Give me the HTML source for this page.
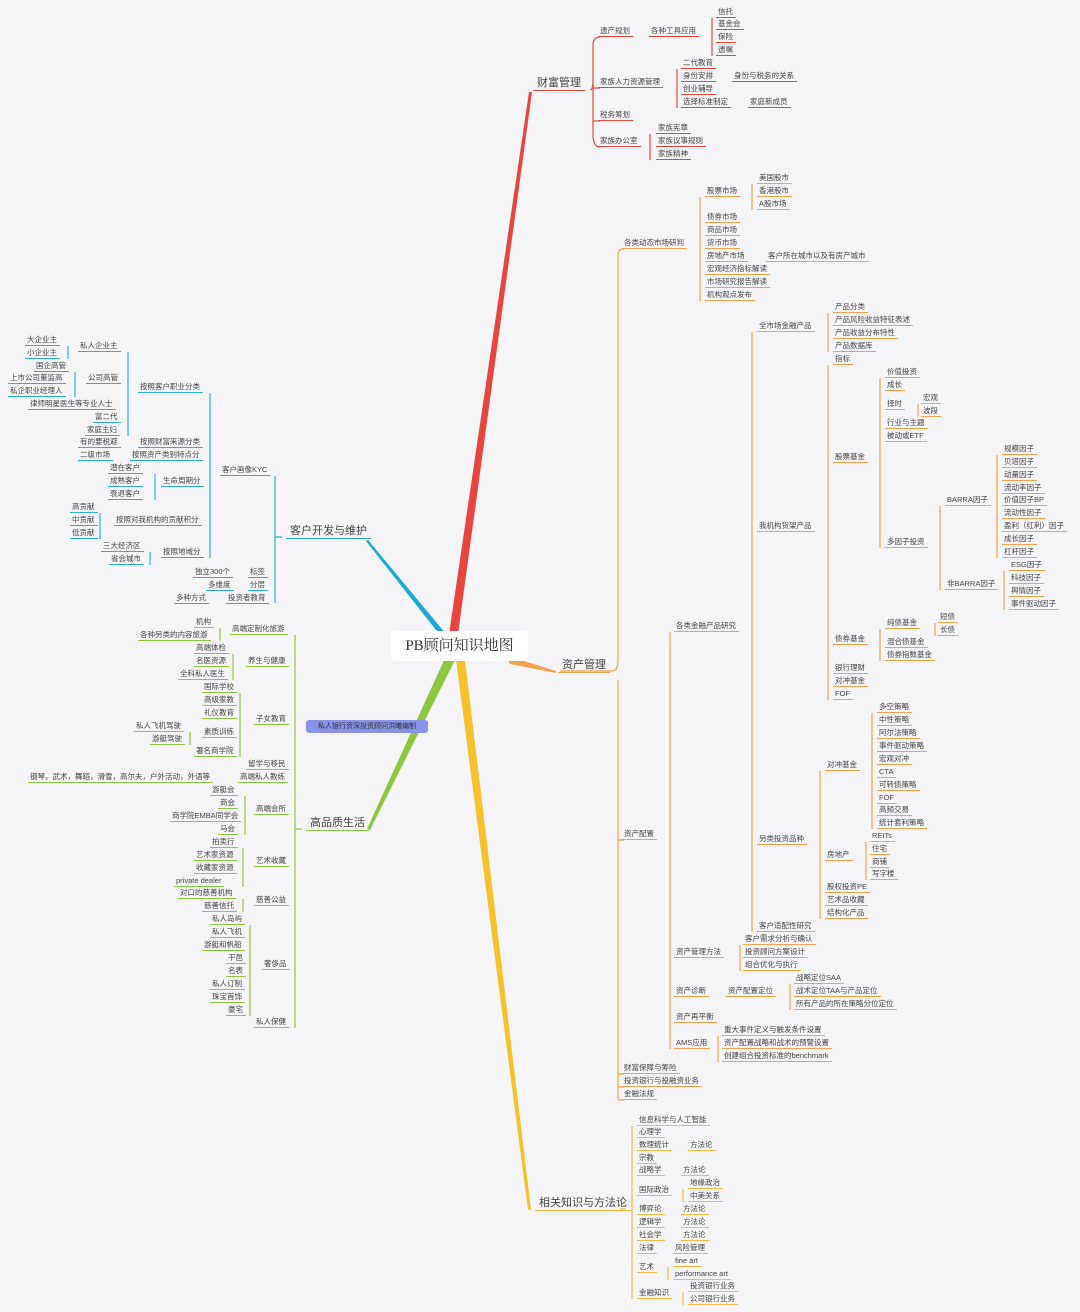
<!DOCTYPE html>
<html><head><meta charset="utf-8">
<style>
body{margin:0;background:#f5f5f8;}
#c{position:relative;width:1080px;height:1312px;overflow:hidden;background:#f5f5f8;font-family:"Liberation Sans","Noto Sans CJK SC",sans-serif;}
p{position:absolute;margin:0;font-size:7.5px;line-height:10px;padding:0 3px 0 2px;white-space:nowrap;color:#444;border-bottom:1px solid;}
.r{border-color:#e8453c}.o{border-color:#f5a04a}.b{border-color:#2ab0d8}.g{border-color:#8dc63f}.y{border-color:#f7b940}
.big{font-size:11px;line-height:14px;padding:0 4px}
svg{position:absolute;left:0;top:0}
</style></head><body><div id="c">
<svg width="1080" height="1312">
<g fill="none" stroke-width="1.2">
<path stroke="#e8453c" d="M590 90 Q593 90 593 80 V46 Q593 37 600 37 M593 80 V134 Q593 147 600 147 M593 88 H600 M593 121 H600 M712 18 V56 M677 69 V108 M650 134 V160"/>
<path stroke="#f5a04a" d="M560 671 H612 Q618 671 618 660 V255 Q618 249 624 249 M618 680 V1100 M618 840 H624 M618 1074 H624 M618 1087 H624 M618 1100 H624 M700 197 V301 M752 184 V210 M670 632 V1049 M752 332 V932 M828 313 V352 M828 365 V700 M880 378 V548 M940 506 V590 M997 455 V558 M1004 571 V610 M918 404 V417 M880 629 V661 M935 623 V636 M820 771 V919 M872 713 V829 M866 842 V880 M740 945 V971 M790 984 V1010 M718 1036 V1062"/>
<path stroke="#2ab0d8" d="M275 476 V603 M275 537 H282 M210 393 V558 M128 352 V436 M68 346 V359 M75 372 V397 M155 474 V500 M100 513 V539 M150 552 V565"/>
<path stroke="#8dc63f" d="M295 635 V1028 M295 829 H302 M220 628 V641 M233 654 V680 M240 693 V757 M190 732 V745 M245 796 V835 M243 848 V887 M243 899 V912 M250 925 V1016"/>
<path stroke="#f7b940" d="M620 1209 H626 M632 1126 V1299 M683 1189 V1202 M668 1267 V1280 M683 1292 V1305"/>
</g>
<polygon fill="#e8453c" points="449,634 458,634 532,92 529,92"/>
<polygon fill="#19a9d5" points="436,630 446,634 368,540 366,541"/>
<polygon fill="#8dc63f" points="446,656 455,660 370,830 367,829"/>
<polygon fill="#f7c12c" points="456,660 465,660 531,1210 528,1210"/>
<polygon fill="#f5a04a" points="505,655 510,664 556,673 556,671"/>
</svg>
<div style="position:absolute;left:391px;top:631px;width:137px;height:30px;background:#fff;border-radius:4px;font-family:'Liberation Serif','Noto Serif CJK SC',serif;font-size:15px;line-height:30px;text-align:center;color:#333">PB顾问知识地图</div>
<div style="position:absolute;left:306px;top:720px;width:122px;height:13px;background:#8a93e8;border-radius:3px;font-size:7px;line-height:13px;text-align:center;color:#333">私人银行资深投资顾问洪曦编制</div>

<p class="r big" style="left:533px;top:76px">财富管理</p>
<p class="r" style="left:598px;top:26px">遗产规划</p><p class="r" style="left:649px;top:26px">各种工具应用</p>
<p class="r" style="left:716px;top:7px">信托</p><p class="r" style="left:716px;top:19px">基金会</p><p class="r" style="left:716px;top:32px">保险</p><p class="r" style="left:716px;top:45px">遗嘱</p>
<p class="r" style="left:598px;top:77px">家族人力资源管理</p>
<p class="r" style="left:681px;top:58px">二代教育</p><p class="r" style="left:681px;top:71px">身份安排</p><p class="r" style="left:732px;top:71px">身份与税务的关系</p><p class="r" style="left:681px;top:84px">创业辅导</p><p class="r" style="left:681px;top:97px">选择标准制定</p><p class="r" style="left:748px;top:97px">家庭新成员</p>
<p class="r" style="left:598px;top:110px">税务筹划</p>
<p class="r" style="left:598px;top:136px">家族办公室</p>
<p class="r" style="left:656px;top:123px">家族宪章</p><p class="r" style="left:656px;top:136px">家族议事规则</p><p class="r" style="left:656px;top:149px">家族精神</p>

<p class="o big" style="left:558px;top:658px">资产管理</p>
<p class="o" style="left:622px;top:238px">各类动态市场研判</p>
<p class="o" style="left:705px;top:186px">股票市场</p>
<p class="o" style="left:757px;top:173px">美国股市</p><p class="o" style="left:757px;top:186px">香港股市</p><p class="o" style="left:757px;top:199px">A股市场</p>
<p class="o" style="left:705px;top:212px">债券市场</p><p class="o" style="left:705px;top:225px">商品市场</p><p class="o" style="left:705px;top:238px">货币市场</p><p class="o" style="left:705px;top:251px">房地产市场</p><p class="o" style="left:766px;top:251px">客户所在城市以及有房产城市</p><p class="o" style="left:705px;top:264px">宏观经济指标解读</p><p class="o" style="left:705px;top:277px">市场研究报告解读</p><p class="o" style="left:705px;top:290px">机构观点发布</p>
<p class="o" style="left:674px;top:621px">各类金融产品研究</p>
<p class="o" style="left:757px;top:321px">全市场金融产品</p>
<p class="o" style="left:833px;top:302px">产品分类</p><p class="o" style="left:833px;top:315px">产品风险收益特征表述</p><p class="o" style="left:833px;top:328px">产品收益分布特性</p><p class="o" style="left:833px;top:341px">产品数据库</p>
<p class="o" style="left:757px;top:521px">我机构货架产品</p>
<p class="o" style="left:833px;top:354px">指标</p><p class="o" style="left:833px;top:452px">股票基金</p><p class="o" style="left:833px;top:634px">债券基金</p><p class="o" style="left:833px;top:663px">银行理财</p><p class="o" style="left:833px;top:676px">对冲基金</p><p class="o" style="left:833px;top:689px">FOF</p>
<p class="o" style="left:885px;top:367px">价值投资</p><p class="o" style="left:885px;top:380px">成长</p><p class="o" style="left:885px;top:399px">择时</p><p class="o" style="left:921px;top:393px">宏观</p><p class="o" style="left:921px;top:406px">波段</p><p class="o" style="left:885px;top:418px">行业与主题</p><p class="o" style="left:885px;top:431px">被动或ETF</p><p class="o" style="left:885px;top:537px">多因子投资</p>
<p class="o" style="left:945px;top:495px">BARRA因子</p><p class="o" style="left:945px;top:579px">非BARRA因子</p>
<p class="o" style="left:1002px;top:444px">规模因子</p><p class="o" style="left:1002px;top:457px">贝塔因子</p><p class="o" style="left:1002px;top:470px">动量因子</p><p class="o" style="left:1002px;top:483px">流动率因子</p><p class="o" style="left:1002px;top:495px">价值因子BP</p><p class="o" style="left:1002px;top:508px">流动性因子</p><p class="o" style="left:1002px;top:521px">盈利（红利）因子</p><p class="o" style="left:1002px;top:534px">成长因子</p><p class="o" style="left:1002px;top:547px">杠杆因子</p>
<p class="o" style="left:1009px;top:560px">ESG因子</p><p class="o" style="left:1009px;top:573px">科技因子</p><p class="o" style="left:1009px;top:586px">舆情因子</p><p class="o" style="left:1009px;top:599px">事件驱动因子</p>
<p class="o" style="left:885px;top:618px">纯债基金</p><p class="o" style="left:938px;top:612px">短债</p><p class="o" style="left:938px;top:625px">长债</p><p class="o" style="left:885px;top:637px">混合债基金</p><p class="o" style="left:885px;top:650px">债券指数基金</p>
<p class="o" style="left:757px;top:834px">另类投资品种</p>
<p class="o" style="left:825px;top:760px">对冲基金</p>
<p class="o" style="left:877px;top:702px">多空策略</p><p class="o" style="left:877px;top:715px">中性策略</p><p class="o" style="left:877px;top:728px">阿尔法策略</p><p class="o" style="left:877px;top:741px">事件驱动策略</p><p class="o" style="left:877px;top:754px">宏观对冲</p><p class="o" style="left:877px;top:767px">CTA</p><p class="o" style="left:877px;top:780px">可转债策略</p><p class="o" style="left:877px;top:793px">FOF</p><p class="o" style="left:877px;top:805px">高频交易</p><p class="o" style="left:877px;top:818px">统计套利策略</p>
<p class="o" style="left:825px;top:850px">房地产</p>
<p class="o" style="left:870px;top:831px">REITs</p><p class="o" style="left:870px;top:844px">住宅</p><p class="o" style="left:870px;top:857px">商铺</p><p class="o" style="left:870px;top:869px">写字楼</p>
<p class="o" style="left:825px;top:882px">股权投资PE</p><p class="o" style="left:825px;top:895px">艺术品收藏</p><p class="o" style="left:825px;top:908px">结构化产品</p>
<p class="o" style="left:757px;top:921px">客户适配性研究</p>
<p class="o" style="left:622px;top:829px">资产配置</p>
<p class="o" style="left:674px;top:947px">资产管理方法</p>
<p class="o" style="left:743px;top:934px">客户需求分析与确认</p><p class="o" style="left:743px;top:947px">投资顾问方案设计</p><p class="o" style="left:743px;top:960px">组合优化与执行</p>
<p class="o" style="left:674px;top:986px">资产诊断</p><p class="o" style="left:726px;top:986px">资产配置定位</p>
<p class="o" style="left:794px;top:973px">战略定位SAA</p><p class="o" style="left:794px;top:986px">战术定位TAA与产品定位</p><p class="o" style="left:794px;top:999px">所有产品的所在策略分位定位</p>
<p class="o" style="left:674px;top:1012px">资产再平衡</p>
<p class="o" style="left:674px;top:1038px">AMS应用</p>
<p class="o" style="left:722px;top:1025px">重大事件定义与触发条件设置</p><p class="o" style="left:722px;top:1038px">资产配置战略和战术的预警设置</p><p class="o" style="left:722px;top:1051px">创建组合投资标准的benchmark</p>
<p class="o" style="left:622px;top:1063px">财富保障与筹险</p><p class="o" style="left:622px;top:1076px">投资银行与投融资业务</p><p class="o" style="left:622px;top:1089px">金融法规</p>

<p class="y big" style="left:535px;top:1196px">相关知识与方法论</p>
<p class="y" style="left:637px;top:1115px">信息科学与人工智能</p><p class="y" style="left:637px;top:1127px">心理学</p><p class="y" style="left:637px;top:1140px">数理统计</p><p class="y" style="left:688px;top:1140px">方法论</p><p class="y" style="left:637px;top:1153px">宗教</p><p class="y" style="left:637px;top:1165px">战略学</p><p class="y" style="left:681px;top:1165px">方法论</p><p class="y" style="left:637px;top:1185px">国际政治</p><p class="y" style="left:688px;top:1178px">地缘政治</p><p class="y" style="left:688px;top:1191px">中美关系</p><p class="y" style="left:637px;top:1204px">博弈论</p><p class="y" style="left:681px;top:1204px">方法论</p><p class="y" style="left:637px;top:1217px">逻辑学</p><p class="y" style="left:681px;top:1217px">方法论</p><p class="y" style="left:637px;top:1230px">社会学</p><p class="y" style="left:681px;top:1230px">方法论</p><p class="y" style="left:637px;top:1243px">法律</p><p class="y" style="left:673px;top:1243px">风险管理</p><p class="y" style="left:637px;top:1262px">艺术</p><p class="y" style="left:673px;top:1256px">fine art</p><p class="y" style="left:673px;top:1269px">performance art</p><p class="y" style="left:637px;top:1288px">金融知识</p><p class="y" style="left:688px;top:1281px">投资银行业务</p><p class="y" style="left:688px;top:1294px">公司银行业务</p>

<p class="b big" style="left:286px;top:524px">客户开发与维护</p>
<p class="b" style="left:220px;top:465px">客户画像KYC</p>
<p class="b" style="left:138px;top:382px">按照客户职业分类</p>
<p class="b" style="left:78px;top:341px">私人企业主</p><p class="b" style="left:25px;top:335px">大企业主</p><p class="b" style="left:25px;top:348px">小企业主</p>
<p class="b" style="left:86px;top:373px">公司高管</p><p class="b" style="left:34px;top:361px">国企高管</p><p class="b" style="left:8px;top:373px">上市公司董监高</p><p class="b" style="left:8px;top:386px">私企职业经理人</p>
<p class="b" style="left:28px;top:399px">律师明星医生等专业人士</p><p class="b" style="left:93px;top:412px">富二代</p><p class="b" style="left:85px;top:425px">家庭主妇</p>
<p class="b" style="left:138px;top:437px">按照财富来源分类</p><p class="b" style="left:78px;top:437px">有的要税避</p>
<p class="b" style="left:130px;top:450px">按照资产类别特点分</p><p class="b" style="left:78px;top:450px">二级市场</p>
<p class="b" style="left:161px;top:476px">生命周期分</p><p class="b" style="left:108px;top:463px">潜在客户</p><p class="b" style="left:108px;top:476px">成熟客户</p><p class="b" style="left:108px;top:489px">衰退客户</p>
<p class="b" style="left:114px;top:515px">按照对我机构的贡献积分</p><p class="b" style="left:70px;top:502px">高贡献</p><p class="b" style="left:70px;top:515px">中贡献</p><p class="b" style="left:70px;top:528px">低贡献</p>
<p class="b" style="left:161px;top:547px">按照地域分</p><p class="b" style="left:101px;top:541px">三大经济区</p><p class="b" style="left:109px;top:554px">省会城市</p>
<p class="b" style="left:248px;top:567px">标签</p><p class="b" style="left:193px;top:567px">独立300个</p>
<p class="b" style="left:248px;top:580px">分层</p><p class="b" style="left:206px;top:580px">多维度</p>
<p class="b" style="left:226px;top:593px">投资者教育</p><p class="b" style="left:174px;top:593px">多种方式</p>

<p class="g big" style="left:306px;top:816px">高品质生活</p>
<p class="g" style="left:230px;top:624px">高端定制化旅游</p><p class="g" style="left:194px;top:617px">机构</p><p class="g" style="left:138px;top:630px">各种另类的内容旅游</p>
<p class="g" style="left:246px;top:656px">养生与健康</p><p class="g" style="left:194px;top:643px">高端体检</p><p class="g" style="left:194px;top:656px">名医资源</p><p class="g" style="left:178px;top:669px">全科私人医生</p>
<p class="g" style="left:254px;top:714px">子女教育</p><p class="g" style="left:202px;top:682px">国际学校</p><p class="g" style="left:202px;top:695px">高级家教</p><p class="g" style="left:202px;top:708px">礼仪教育</p><p class="g" style="left:202px;top:727px">素质训练</p><p class="g" style="left:134px;top:721px">私人飞机驾驶</p><p class="g" style="left:150px;top:734px">游艇驾驶</p><p class="g" style="left:194px;top:746px">著名商学院</p>
<p class="g" style="left:246px;top:759px">留学与移民</p>
<p class="g" style="left:238px;top:772px">高端私人教练</p><p class="g" style="left:28px;top:772px">钢琴，武术，舞蹈，滑雪，高尔夫，户外活动，外语等</p>
<p class="g" style="left:254px;top:804px">高端会所</p><p class="g" style="left:210px;top:785px">游艇会</p><p class="g" style="left:218px;top:798px">商会</p><p class="g" style="left:170px;top:811px">商学院EMBA同学会</p><p class="g" style="left:218px;top:824px">马会</p>
<p class="g" style="left:254px;top:856px">艺术收藏</p><p class="g" style="left:210px;top:837px">拍卖行</p><p class="g" style="left:194px;top:850px">艺术家资源</p><p class="g" style="left:194px;top:863px">收藏家资源</p><p class="g" style="left:174px;top:876px">private dealer</p>
<p class="g" style="left:254px;top:895px">慈善公益</p><p class="g" style="left:178px;top:888px">对口的慈善机构</p><p class="g" style="left:202px;top:901px">慈善信托</p>
<p class="g" style="left:262px;top:959px">奢侈品</p><p class="g" style="left:210px;top:914px">私人岛屿</p><p class="g" style="left:210px;top:927px">私人飞机</p><p class="g" style="left:202px;top:940px">游艇和帆船</p><p class="g" style="left:226px;top:953px">干邑</p><p class="g" style="left:226px;top:966px">名表</p><p class="g" style="left:210px;top:979px">私人订制</p><p class="g" style="left:210px;top:992px">珠宝首饰</p><p class="g" style="left:226px;top:1005px">豪宅</p>
<p class="g" style="left:254px;top:1017px">私人保健</p>
</div></body></html>
